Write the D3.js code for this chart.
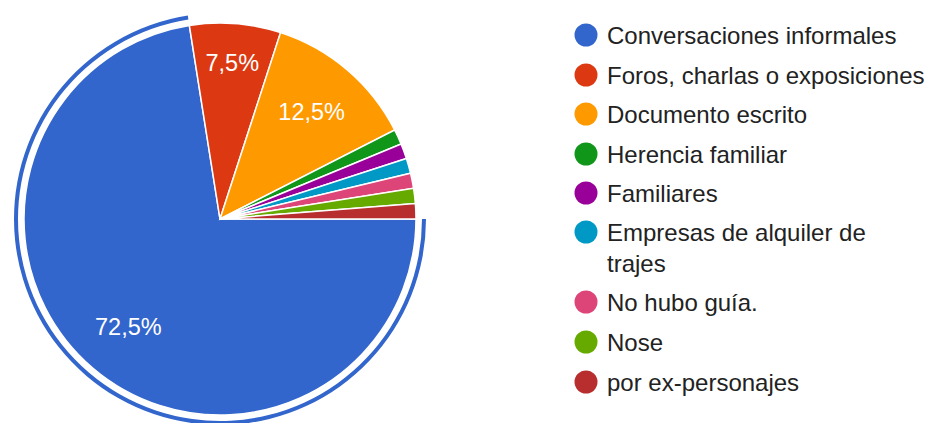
<!DOCTYPE html>
<html>
<head>
<meta charset="utf-8">
<script src="https://cdn.jsdelivr.net/npm/d3@7"></script>
<style>
body { margin: 0; background: #fff; }
text { font-family: "Liberation Sans", Arial, sans-serif; }
</style>
</head>
<body>
<script>
var labels = ["Conversaciones informales", "Foros, charlas o exposiciones", "Documento escrito",
	"Herencia familiar", "Familiares", "Empresas de alquiler de trajes", "No hubo guía.",
	"Nose", "por ex-personajes"];
var values = [58, 6, 10, 1, 1, 1, 1, 1, 1];
var colors = ["#3366cc", "#dc3912", "#ff9900", "#109618", "#990099", "#0099c6", "#dd4477", "#66aa00", "#b82e2e"];
// legend text broken into lines like the original
var legendLines = [["Conversaciones informales"], ["Foros, charlas o exposiciones"], ["Documento escrito"],
	["Herencia familiar"], ["Familiares"], ["Empresas de alquiler de", "trajes"], ["No hubo guía."],
	["Nose"], ["por ex-personajes"]];

var width = 928, height = 423;
var cx = 220, cy = 219, radius = 196;

var svg = d3.select("body").append("svg")
	.attr("width", width)
	.attr("height", height);

var g = svg.append("g")
	.attr("transform", "translate(" + cx + "," + cy + ")");

var total = d3.sum(values);
var pie = d3.pie()
	.sort(null)
	.value(function(d) { return d; })
	.startAngle(Math.PI / 2)
	.endAngle(Math.PI / 2 + 2 * Math.PI);

var arcs = pie(values);
var arc = d3.arc().innerRadius(0).outerRadius(radius);

g.selectAll(".slice")
	.data(arcs)
	.enter()
	.append("path")
	.attr("class", "slice")
	.attr("d", arc)
	.attr("fill", function(d, i) { return colors[i]; })
	.attr("stroke", "#fff")
	.attr("stroke-width", 1.5);

// highlight ring round the first slice
g.append("path")
	.attr("d", d3.arc().innerRadius(radius + 6).outerRadius(radius + 10)(arcs[0]))
	.attr("fill", colors[0]);

var fmt = function(v) { return (v / total * 100).toFixed(1).replace(".", ",") + "%"; };

// narrow slices get their label pushed further out
function labelPos(d) {
	var r = (d.endAngle - d.startAngle) < 0.6 ? radius * 0.8 : radius * 0.72;
	return d3.arc().innerRadius(r).outerRadius(r).centroid(d);
}

g.selectAll(".lbl")
	.data(arcs.filter(function(d) { return d.value / total > 0.05; }))
	.enter()
	.append("text")
	.attr("class", "lbl")
	.attr("transform", function(d) { return "translate(" + labelPos(d) + ")"; })
	.attr("text-anchor", "middle")
	.attr("dy", "0.36em")
	.attr("fill", "#fff")
	.attr("font-size", 23.5)
	.text(function(d) { return fmt(d.value); });

// legend
var legend = svg.append("g");
var rowY = [35, 75, 114, 154, 193, 232, 302, 342, 382];
labels.forEach(function(name, i) {
	var row = legend.append("g").attr("transform", "translate(586," + rowY[i] + ")");
	row.append("circle").attr("r", 11.5).attr("fill", colors[i]);
	row.selectAll("text")
		.data(legendLines[i])
		.enter()
		.append("text")
		.attr("x", 21)
		.attr("y", function(d, j) { return j * 31; })
		.attr("dy", "0.36em")
		.attr("font-size", 24)
		.attr("fill", "#222")
		.text(function(d) { return d; });
});
</script>
</body>
</html>
